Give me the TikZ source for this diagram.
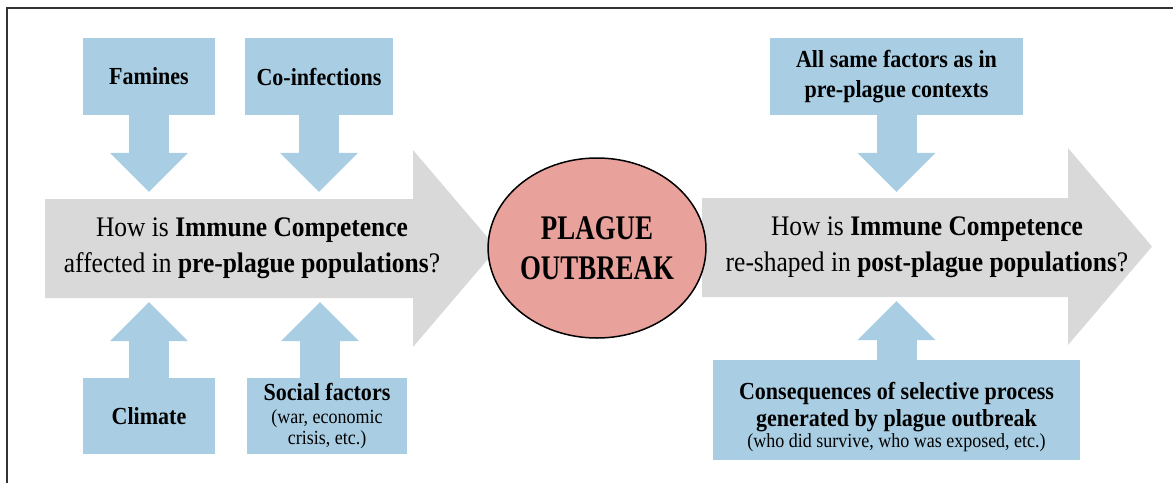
\documentclass[tikz,border=0pt]{standalone}
\usepackage{fontspec}
\setmainfont{Liberation Serif}[FakeStretch=0.9]
\newfontfamily\narrowserif{Liberation Serif}[FakeStretch=0.78]
\usepackage{xcolor}
\usepackage{tikz}
\usetikzlibrary{arrows.meta,shapes.geometric}

\definecolor{boxblue}{HTML}{A9CEE3}
\definecolor{arrowgrey}{HTML}{D9D9D9}
\definecolor{plaguered}{HTML}{E8A19B}
\definecolor{framegrey}{HTML}{333333}

\newcommand{\subsize}{\fontsize{20}{22}\selectfont\mdseries}

\begin{document}
\begin{tikzpicture}[x=1pt, y=-1pt,
    factor/.style = {rectangle, fill=boxblue, inner sep=0pt, align=center,
                     font=\fontsize{24.5}{27}\selectfont\bfseries},
    fatarrow/.style = {draw=boxblue, line width=40pt,
                       -{Triangle[width=78pt, length=39pt, line width=0pt]}},
    question/.style = {inner sep=0pt, minimum height=99pt, align=center,
                       font=\fontsize{28.3}{36}\selectfont},
    frame/.style = {draw=framegrey, line width=1.5pt}]
        \useasboundingbox (0, 0) rectangle (1173, 483);
        \draw [frame] (7, 483) -- (7, 8) -- (1173, 8);

        % big grey arrows
        \fill [arrowgrey] (45, 199) -- (413, 199) -- (413, 150) -- (497, 248.5) -- (413, 347) -- (413, 298) -- (45, 298) -- cycle;
        \fill [arrowgrey] (702, 198) -- (1068, 198) -- (1068, 148) -- (1152, 246.5) -- (1068, 345) -- (1068, 297) -- (702, 297) -- cycle;
        \node (pre) at (252, 248.5) [question] {How is \textbf{Immune Competence}\\affected in \textbf{pre-plague populations}?};
        \node (post) at (927, 247.5) [question] {How is \textbf{Immune Competence}\\re-shaped in \textbf{post-plague populations}?};

        \node (plague) at (597, 248) [ellipse, draw, line width=1.5pt, fill=plaguered, minimum width=200pt, minimum height=180pt, inner sep=0pt, align=center, font=\fontsize{34.5}{40}\selectfont\narrowserif\bfseries] {PLAGUE\\OUTBREAK};

        % factors
        \node (famines) at (149, 76.5) [factor, minimum width=132pt, minimum height=77pt] {Famines};
        \node (coinf) at (319, 76.5) [factor, minimum width=148pt, minimum height=77pt] {Co-infections};
        \node (climate) at (149, 416) [factor, minimum width=132pt, minimum height=76pt] {Climate};
        \node (social) at (327, 416) [factor, minimum width=160pt, minimum height=76pt] {Social factors\\[-4pt]{\subsize (war, economic}\\[-6pt]{\subsize crisis, etc.)}};
        \node (samefac) at (896.5, 76.5) [factor, minimum width=253pt, minimum height=77pt] {All same factors as in\\[3pt]pre-plague contexts};
        \node (conseq) at (896.5, 410) [factor, minimum width=367pt, minimum height=100pt] {\rule{0pt}{32pt}Consequences of selective process\\generated by plague outbreak\\[-6pt]{\subsize (who did survive, who was exposed, etc.)}};

        \draw [fatarrow, shorten >=7pt] (famines) -- (famines |- pre.north);
        \draw [fatarrow, shorten >=7pt] (coinf) -- (coinf |- pre.north);
        \draw [fatarrow, shorten >=4pt] (climate) -- (climate |- pre.south);
        \draw [fatarrow, shorten >=4pt] ([xshift=-7pt]social.north) -- ([xshift=-7pt]social.north |- pre.south);
        \draw [fatarrow, shorten >=6pt] (samefac) -- (samefac |- post.north);
        \draw [fatarrow, shorten >=4pt] (conseq) -- (conseq |- post.south);
    \end{tikzpicture}
\end{document}
